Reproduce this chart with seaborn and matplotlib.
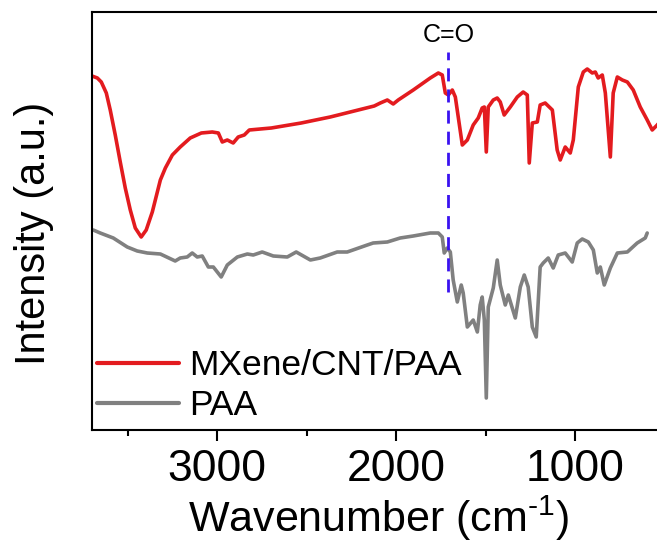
import matplotlib
matplotlib.use("Agg")
import matplotlib.pyplot as plt
import pandas as pd
import seaborn as sns

# ---- data ----
wn_mxene = [3700, 3670, 3648, 3620, 3598, 3570, 3542, 3514, 3486, 3458, 3425, 3397,
            3363, 3318, 3290, 3251, 3207, 3151, 3089, 3028, 2994, 2972, 2944, 2911,
            2883, 2849, 2821, 2698, 2531, 2369, 2324, 2123, 2089, 2050, 2017, 1989,
            1905, 1810, 1765, 1743, 1726, 1709, 1687, 1670, 1631, 1603, 1570, 1542,
            1520, 1508, 1497, 1486, 1458, 1436, 1419, 1397, 1363, 1324, 1291, 1268,
            1257, 1240, 1212, 1196, 1168, 1151, 1128, 1101, 1084, 1056, 1028, 1011,
            983, 955, 933, 905, 888, 872, 849, 832, 804, 788, 765, 737, 709, 676,
            637, 598, 570, 542, 500]
int_mxene = [354, 352, 348, 337, 320, 295, 268, 242, 220, 202, 193, 200,
             218, 250, 262, 275, 283, 292, 297, 298, 297, 288, 290, 287,
             293, 295, 300, 302, 307, 313, 315, 324, 327, 330, 326, 330,
             340, 352, 357, 355, 337, 335, 340, 333, 285, 290, 305, 312,
             322, 323, 278, 323, 330, 332, 328, 315, 323, 333, 338, 335,
             267, 307, 308, 325, 327, 324, 320, 280, 270, 283, 277, 290,
             343, 358, 361, 357, 358, 352, 355, 337, 273, 337, 353, 350, 348, 340,
             323, 310, 300, 305, 315]

wn_paa = [3693, 3654, 3581, 3503, 3447, 3391, 3318, 3235, 3207, 3168, 3140, 3112,
          3084, 3050, 3022, 2978, 2944, 2888, 2832, 2799, 2749, 2687, 2609, 2559,
          2480, 2425, 2330, 2274, 2162, 2129, 2050, 1978, 1905, 1810, 1765, 1743,
          1732, 1715, 1698, 1682, 1659, 1637, 1626, 1603, 1570, 1547, 1531, 1520,
          1508, 1497, 1486, 1458, 1436, 1419, 1391, 1374, 1335, 1307, 1285, 1263,
          1240, 1218, 1196, 1179, 1151, 1123, 1095, 1056, 1017, 989, 961, 927,
          899, 877, 860, 838, 804, 765, 709, 654, 609, 598]
int_paa = [200, 197, 192, 183, 179, 177, 176, 169, 172, 173, 177, 173,
           174, 163, 163, 153, 165, 173, 176, 175, 178, 174, 173, 178,
           170, 172, 178, 178, 185, 187, 188, 192, 194, 197, 197, 193,
           177, 182, 178, 150, 128, 145, 137, 103, 110, 98, 125, 133,
           110, 32, 123, 142, 170, 145, 125, 135, 112, 143, 155, 143,
           103, 93, 163, 167, 172, 162, 175, 177, 168, 187, 191, 188,
           180, 157, 163, 145, 162, 177, 178, 187, 192, 197]

series_names = ["MXene/CNT/PAA", "PAA"]
series_colors = ["#E31B1F", "#808080"]
co_position = 1709
co_label = "C=O"
x_ticks = [3000, 2000, 1000]
x_minor = [3500, 2500, 1500]
x_label = "Wavenumber (cm$^{\\text{-1}}$)"
y_label = "Intensity (a.u.)"

df = pd.concat([
    pd.DataFrame({"wn": wn_mxene, "I": int_mxene, "sample": series_names[0]}),
    pd.DataFrame({"wn": wn_paa, "I": int_paa, "sample": series_names[1]}),
], ignore_index=True)

sns.set_style("ticks")
plt.rcParams["font.family"] = ["Liberation Sans", "DejaVu Sans"]
plt.rcParams["mathtext.fontset"] = "custom"
plt.rcParams["mathtext.rm"] = "Liberation Sans"
plt.rcParams["mathtext.default"] = "regular"
for key in ["text.color", "axes.labelcolor", "xtick.color", "ytick.color", "axes.edgecolor"]:
    plt.rcParams[key] = "black"

fig = plt.figure(figsize=(6.57, 5.45), dpi=100)
ax = fig.add_axes([0.1400, 0.2110, 0.8718, 0.767])

sns.lineplot(data=df, x="wn", y="I", hue="sample", palette=dict(zip(series_names, series_colors)),
             sort=False, estimator=None, linewidth=2.6, ax=ax)

ax.axvline(co_position, ymin=138 / 418, ymax=378 / 418, color="#3A12F0", lw=2.0,
           linestyle=(0, (4.7, 2.9)))
ax.text(co_position, 388, co_label, ha="center", va="baseline", fontsize=18, color="black")

ax.set_xlim(3700, 500)
ax.set_ylim(0, 418)
ax.set_xticks(x_ticks)
ax.set_xticks(x_minor, minor=True)
ax.set_yticks([])
ax.tick_params(axis="x", which="major", direction="out", length=8, width=1.5,
               labelsize=32, pad=6, colors="black")
ax.tick_params(axis="x", which="minor", direction="out", length=4, width=1.5, colors="black")
for s in ax.spines.values():
    s.set_linewidth(1.5)
    s.set_color("black")

ax.set_xlabel(x_label, fontsize=31, labelpad=2, color="black")
ax.set_ylabel(y_label, fontsize=30, color="black")
ax.yaxis.set_label_coords(-0.066, 0.47)

leg = ax.legend(loc="lower left", bbox_to_anchor=(0.009, 0.019), frameon=False,
                fontsize=25.5, handlelength=2.3, handletextpad=0.3, labelspacing=0.2,
                borderpad=0, borderaxespad=0)
for line in leg.get_lines():
    line.set_linewidth(3.0)
for t in leg.get_texts():
    t.set_color("black")

fig.savefig("out.png", dpi=100)
